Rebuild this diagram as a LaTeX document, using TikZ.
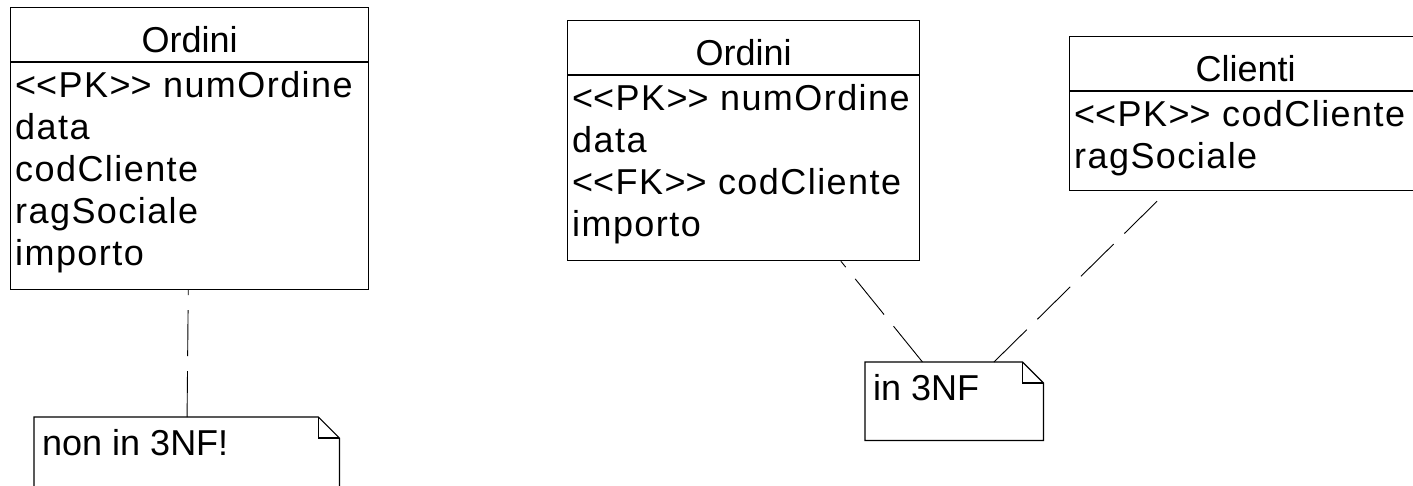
\documentclass[tikz,border=0pt]{standalone}
\usepackage{fontspec}
\setmainfont{Liberation Sans}
\newfontfamily\attrFont{Liberation Sans}[LetterSpace=4]
\usetikzlibrary{positioning}
\tikzstyle{diagram} = [x = 1pt, y = -1pt]
\tikzstyle{classStyle} = [draw, line width = 1.2pt, rectangle, inner sep = 0pt, anchor = north west]
\tikzstyle{classText} = [font = \fontsize{36}{42}\selectfont, inner sep = 0pt]
\tikzstyle{attrText} = [font = \attrFont\fontsize{36}{42}\selectfont, inner sep = 0pt, anchor = base west]
\tikzstyle{titleLine} = [line width = 1.2pt]
\tikzstyle{noteStyle} = [rectangle, inner sep = 0pt, anchor = north west]
\tikzstyle{noteLine} = [line width = 1.2pt, line join = miter]
\tikzstyle{noteLink} = [line width = .9pt, dash pattern = on 46pt off 15pt]
\newcommand{\fold}{21pt}
\newcommand{\stereo}[1]{<\kern0pt<#1>\kern0pt>}
\newcommand{\umlClass}[6]{ % name, x, y, width, height, title
  \node [classStyle, minimum width = #4pt, minimum height = #5pt] (#1) at (#2, #3) {};
  \draw [titleLine] ([yshift = -55pt]#1.north west) -- ([yshift = -55pt]#1.north east);
  \node [classText, anchor = base] (#1Title) at ([yshift = -45pt]#1.north) {#6};
}
\newcommand{\attributes}[2]{
  \foreach \attr [count = \row] in {#2} {
    \node [attrText] (#1Row\row) at ([xshift = 5pt, yshift = -48pt - 42pt * \row]#1.north west) {\attr};
  }
}
\newcommand{\umlNote}[6]{ % name, x, y, width, height, text
  \node [noteStyle, minimum width = #4pt, minimum height = #5pt] (#1) at (#2, #3) {};
  \draw [noteLine] (#1.north west) -- ([xshift = -\fold]#1.north east) -- ([yshift = -\fold]#1.north east) -- (#1.south east) -- (#1.south west) -- cycle;
  \draw [noteLine] ([xshift = -\fold]#1.north east) |- ([yshift = -\fold]#1.north east);
  \node [classText, anchor = base west] (#1Text) at ([xshift = 8pt, yshift = -38pt]#1.north west) {#6};
}

\begin{document}
\begin{tikzpicture}[diagram]
  \useasboundingbox (0, 0) rectangle (1413, 485);
  \clip (0, 0) rectangle (1413, 485);
  % not normalised
  \umlClass{ordiniA}{10}{7}{358}{282}{Ordini}
  \attributes{ordiniA}{\stereo{PK} numOrdine, data, codCliente, ragSociale, importo}
  \umlNote{nonTreNF}{34}{417}{305}{78}{non in 3NF!}
  \draw [noteLink] (nonTreNF) -- (ordiniA);
  % normalised
  \umlClass{ordiniB}{567}{20}{352}{240}{Ordini}
  \attributes{ordiniB}{\stereo{PK} numOrdine, data, \stereo{FK} codCliente, importo}
  \umlClass{clienti}{1069}{36}{352}{154}{Clienti}
  \attributes{clienti}{\stereo{PK} codCliente, ragSociale}
  \umlNote{treNF}{865}{362}{178}{78}{in 3NF}
  \draw [noteLink] (treNF) -- (ordiniB);
  \draw [noteLink] (treNF) -- (clienti);
\end{tikzpicture}
\end{document}
